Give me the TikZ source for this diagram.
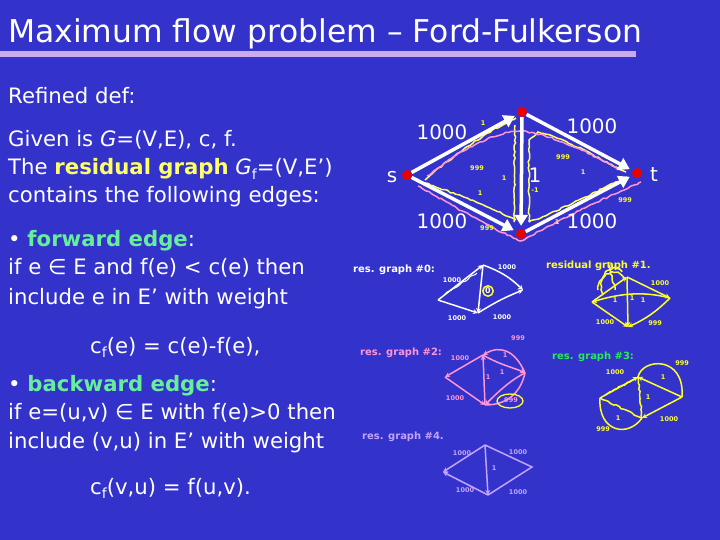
\documentclass[tikz,border=0pt]{standalone}
\usepackage{fontspec}
\setmainfont{DejaVu Sans}
\usetikzlibrary{arrows.meta,decorations.pathmorphing}
\definecolor{bg}{RGB}{51,51,204}
\definecolor{yel}{RGB}{255,255,102}
\definecolor{grn}{RGB}{102,238,153}
\definecolor{lav}{RGB}{204,170,238}
\definecolor{pnk}{RGB}{255,150,215}
\definecolor{hyel}{RGB}{255,255,40}
\definecolor{hgrn}{RGB}{40,235,90}
\definecolor{hlav}{RGB}{195,165,255}
\definecolor{vred}{RGB}{235,0,0}
\newcommand{\subf}{\raisebox{-0.35ex}{\fontsize{14}{14}\selectfont f}}
\begin{document}
\begin{tikzpicture}[x=1bp,y=-1bp,
  txt/.style={anchor=base west, inner sep=0, text=white, font=\fontsize{21.3}{24}\selectfont},
  bigarrow/.style={white, line width=3.5bp, shorten >=3bp, -{Triangle[length=11bp,width=13bp]}},
  vdot/.style={circle, fill=vred, inner sep=0, minimum size=10bp},
  caplabel/.style={text=white, inner sep=0, font=\fontsize{20}{24}\selectfont},
  hand/.style={inner sep=0, font=\fontsize{6.5}{7}\selectfont\bfseries},
  htitle/.style={inner sep=0, anchor=west, font=\fontsize{10}{11}\selectfont\bfseries},
  sk/.style={line width=1.5bp, -{Stealth[length=5bp,width=5bp]}},
  skl/.style={line width=1.5bp},
  wig/.style={line width=1.5bp, decorate, decoration={random steps, segment length=3bp, amplitude=0.8bp}},
  ]
\useasboundingbox (0,0) rectangle (720,540);
\fill[bg] (0,0) rectangle (720,540);

% title
\node[anchor=base west, inner sep=0, text=white, font=\fontsize{31.5}{34}\selectfont] (title) at (8,43) {Maximum flow problem -- Ford-Fulkerson};
\fill[lav] (0,51) rectangle (636,57);

% left text
\node[txt] (t1) at (8,104) {Refined def:};
\node[txt] (t2) at (8,147) {Given is \textit{G}=(V,E), c, f.};
\node[txt] (t3) at (8,175) {The \textcolor{yel}{\bfseries residual graph} \textit{G}\subf=(V,E')};
\node[txt] (t4) at (8,203) {contains the following edges:};
\node[txt] (t5) at (8,247) {\textbullet\ \textcolor{grn}{\bfseries forward edge}:};
\node[txt] (t6) at (8,275) {if e ∈ E and f(e) < c(e) then};
\node[txt] (t7) at (8,304) {include e in E' with weight};
\node[txt] (t8) at (90,353) {c\subf(e) = c(e)-f(e),};
\node[txt] (t9) at (8,391) {\textbullet\ \textcolor{grn}{\bfseries backward edge}:};
\node[txt] (t10) at (8,419) {if e=(u,v) ∈ E with f(e)>0 then};
\node[txt] (t11) at (8,448) {include (v,u) in E' with weight};
\node[txt] (t12) at (90,494) {c\subf(v,u) = f(u,v).};

% main network
\node[vdot] (s) at (407,175) {};
\node[vdot] (u) at (522,112) {};
\node[vdot] (v) at (521,234) {};
\node[vdot] (t) at (637,173) {};
\node[caplabel] (sl) at (392,177) {s};
\node[caplabel] (tl) at (654,175) {t};

% yellow / pink annotations (under arrows)
\draw[yel, wig] (425,180) .. controls (460,150) and (490,130) .. (516,118);
\draw[yel, wig] (515,125) -- (514,222);
\draw[yel, wig] (425,183) .. controls (460,195) and (495,210) .. (516,220);
\draw[yel, wig] (529,222) -- (529,140) -- (538,132) .. controls (570,140) and (600,160) .. (626,172);
\draw[yel, wig] (529,222) .. controls (560,210) and (600,190) .. (627,177);
\draw[pnk, wig] (427,176) .. controls (460,150) and (495,132) .. (520,131) .. controls (560,135) and (600,160) .. (619,169);
\draw[pnk, wig] (418,186) .. controls (460,210) and (495,230) .. (521,241) .. controls (560,220) and (610,195) .. (641,182);

\draw[bigarrow] (s) -- (u);
\draw[bigarrow] (u) -- (t);
\draw[bigarrow] (s) -- (v);
\draw[bigarrow] (v) -- (t);
\draw[bigarrow] (u) -- (v);

\node[caplabel] (c1) at (442,132) {1000};
\node[caplabel] (c2) at (592,126) {1000};
\node[caplabel] (c3) at (442,221) {1000};
\node[caplabel] (c4) at (592,221) {1000};
\node[caplabel] (c5) at (535,175) {1};

\begin{scope}[every node/.style={hand, text=hyel}]
\node (y1) at (483,123) {1};
\node (y2) at (477,168) {999};
\node (y3) at (480,193) {1};
\node (y4) at (504,178) {1};
\node (y5) at (535,190) {-1};
\node (y6) at (563,157) {999};
\node (y7) at (583,172) {1};
\node (y8) at (625,200) {999};
\node (y9) at (557,222) {1};
\node (y10) at (487,228) {999};
\end{scope}

% res. graph #0 (white)
\node[htitle, text=white] (g0) at (353,270) {res. graph \#0:};
\coordinate (a0l) at (438,300);
\coordinate (a0t) at (483,265);
\coordinate (a0r) at (523,290);
\coordinate (a0b) at (478,313);
\draw[sk, white] (a0l) -- (a0t);
\draw[sk, white] (a0t) to[bend left=12] (a0r);
\draw[sk, white] (a0l) -- (a0b);
\draw[sk, white] (a0b) to[bend left=5] (a0r);
\draw[sk, white] (a0t) -- (a0b);
\draw[white, wig, line width=1bp] (445,294) -- (477,273);
\node[hand, text=white] (a0c1) at (452,280) {1000};
\node[hand, text=white] (a0c2) at (507,267) {1000};
\node[hand, text=white] (a0c3) at (457,318) {1000};
\node[hand, text=white] (a0c4) at (502,317) {1000};
\node[circle, draw=hyel, line width=1.5bp, inner sep=0.8bp, font=\fontsize{8}{8}\selectfont\bfseries, text=white] (a0z) at (488,291) {0};

% residual graph #1 (yellow)
\node[htitle, text=hyel] (g1) at (546,266) {residual graph \#1.};
\coordinate (b1l) at (592,302);
\coordinate (b1t) at (627,277);
\coordinate (b1r) at (670,298);
\coordinate (b1b) at (628,327);
\draw[sk, hyel] (b1l) -- (b1t);
\draw[sk, hyel] (b1t) -- (b1r);
\draw[sk, hyel] (b1l) -- (b1b);
\draw[sk, hyel] (b1r) to[bend left=10] (b1b);
\draw[sk, hyel] (b1t) -- (b1b);
\draw[sk, hyel] (b1r) .. controls (640,290) and (615,295) .. (b1l);
\draw[hyel, wig] (598,290) .. controls (600,270) and (620,268) .. (625,280);
\draw[hyel, wig] (603,295) .. controls (596,275) and (612,262) .. (622,272);
\draw[hyel, wig] (608,262) -- (615,290);
\node[hand, text=hyel] (b1c1) at (660,283) {1000};
\node[hand, text=hyel] (b1c2) at (605,322) {1000};
\node[hand, text=hyel] (b1c3) at (655,323) {999};
\node[hand, text=hyel] (b1c4) at (615,300) {1};
\node[hand, text=hyel] (b1c5) at (632,298) {1};
\node[hand, text=hyel] (b1c6) at (643,300) {1};

% res. graph #2 (pink)
\node[htitle, text=pnk] (g2) at (360,353) {res. graph \#2:};
\coordinate (c2l) at (445,377);
\coordinate (c2t) at (483,355);
\coordinate (c2r) at (525,373);
\coordinate (c2b) at (485,405);
\draw[sk, pnk] (c2t) -- (c2l);
\draw[sk, pnk] (c2b) -- (c2t);
\draw[sk, pnk] (c2l) -- (c2b);
\draw[sk, pnk] (c2r) .. controls (515,350) and (500,345) .. (c2t);
\draw[sk, pnk] (c2t) .. controls (500,365) and (515,368) .. (c2r);
\draw[sk, pnk] (c2r) .. controls (510,380) and (495,395) .. (c2b);
\draw[skl, pnk] (c2b) .. controls (505,405) and (520,395) .. (c2r);
\draw[hyel, line width=1.3bp] (510,401) ellipse [x radius=13bp, y radius=7bp];
\node[hand, text=pnk] (c2c1) at (460,358) {1000};
\node[hand, text=pnk] (c2c2) at (518,338) {999};
\node[hand, text=pnk] (c2c3) at (455,398) {1000};
\node[hand, text=pnk] (c2c4) at (505,355) {1};
\node[hand, text=pnk] (c2c5) at (502,372) {1};
\node[hand, text=pnk] (c2c6) at (488,377) {1};
\node[hand, text=pnk] (c2c7) at (511,400) {999};

% res. graph #3 (green title, yellow sketch)
\node[htitle, text=hgrn] (g3) at (552,357) {res. graph \#3:};
\coordinate (d3l) at (600,398);
\coordinate (d3t) at (638,377);
\coordinate (d3r) at (682,397);
\coordinate (d3b) at (642,418);
\draw[sk, hyel] (d3l) -- (d3t);
\draw[sk, hyel] (d3r) -- (d3t);
\draw[sk, hyel] (d3r) -- (d3b);
\draw[hyel, wig] (d3l) -- (d3b);
\draw[hyel, wig] (d3t) -- (d3b);
\draw[skl, hyel] (d3t) .. controls (642,358) and (685,355) .. (d3r);
\draw[skl, hyel] (d3l) .. controls (598,432) and (628,438) .. (d3b);
\draw[hyel, wig] (d3t) -- (605,395);
\node[hand, text=hyel] (d3c1) at (682,363) {999};
\node[hand, text=hyel] (d3c2) at (615,372) {1000};
\node[hand, text=hyel] (d3c3) at (669,419) {1000};
\node[hand, text=hyel] (d3c4) at (603,429) {999};
\node[hand, text=hyel] (d3c5) at (663,377) {1};
\node[hand, text=hyel] (d3c6) at (648,397) {1};
\node[hand, text=hyel] (d3c7) at (618,418) {1};

% res. graph #4 (lavender)
\node[htitle, text=hlav] (g4) at (362,437) {res. graph \#4.};
\coordinate (e4l) at (443,472);
\coordinate (e4t) at (485,445);
\coordinate (e4r) at (532,467);
\coordinate (e4b) at (488,495);
\draw[sk, hlav] (e4t) -- (e4l);
\draw[sk, hlav] (e4b) -- (e4l);
\draw[sk, hlav] (e4t) -- (e4b);
\draw[skl, hlav] (e4t) -- (e4r) -- (e4b);
\node[hand, text=hlav] (e4c1) at (462,453) {1000};
\node[hand, text=hlav] (e4c2) at (518,452) {1000};
\node[hand, text=hlav] (e4c3) at (465,490) {1000};
\node[hand, text=hlav] (e4c4) at (518,492) {1000};
\node[hand, text=hlav] (e4c5) at (494,468) {1};
\end{tikzpicture}
\end{document}
